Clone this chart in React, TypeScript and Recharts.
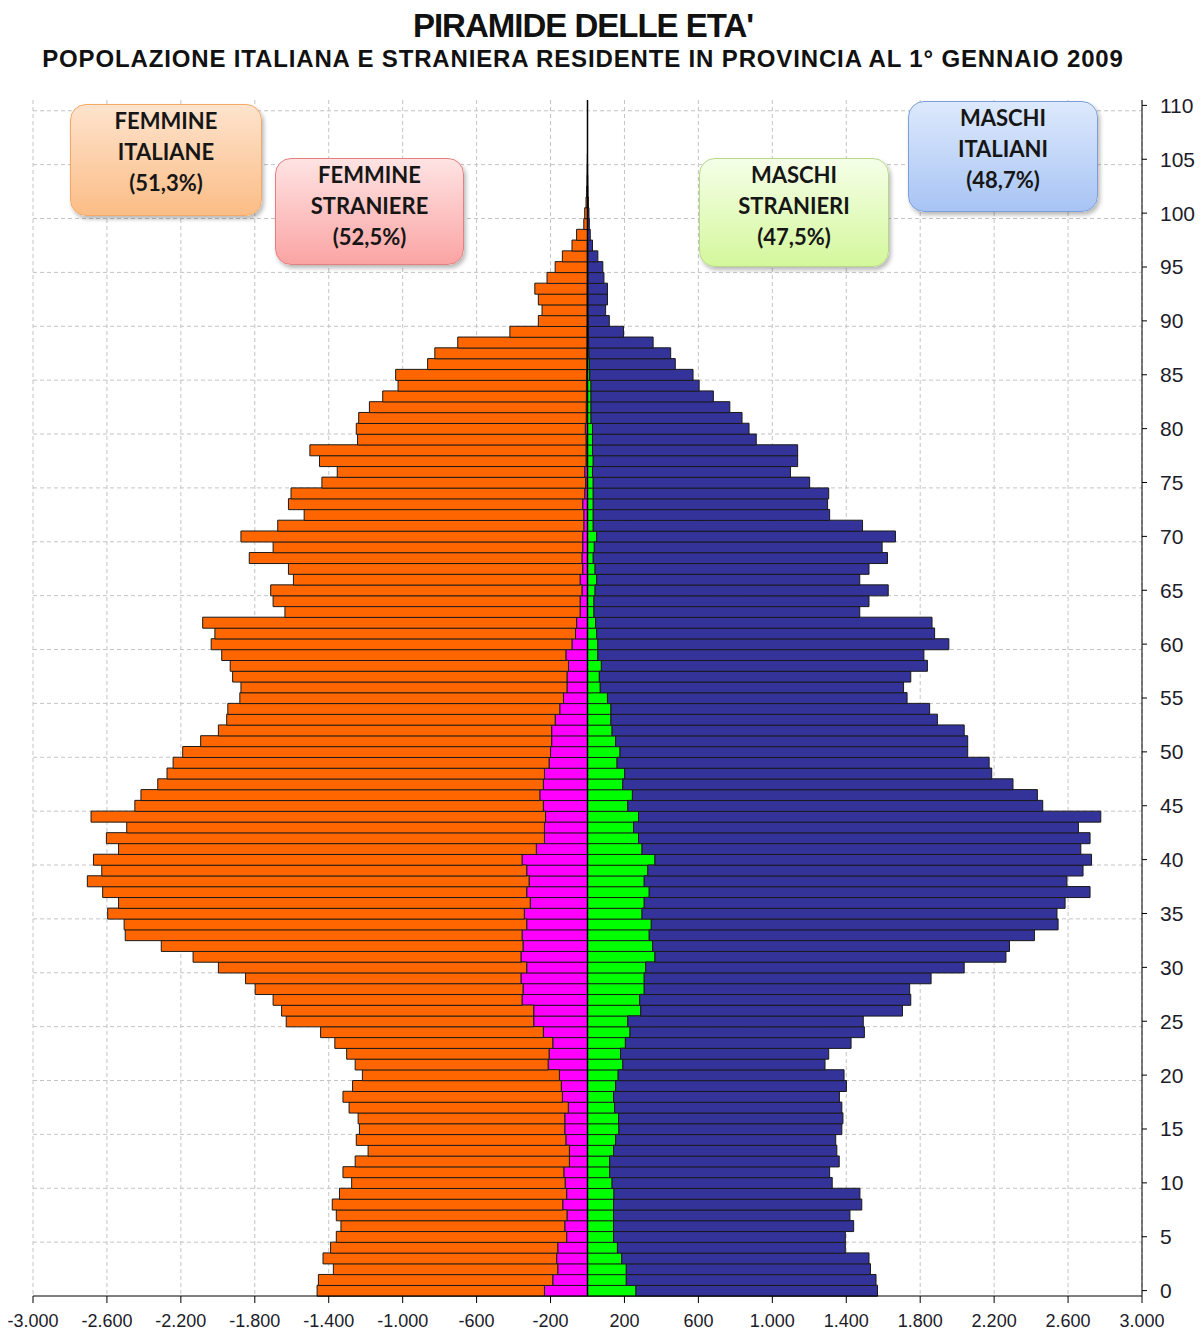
import React from "react";
import { BarChart, Bar, XAxis, YAxis, CartesianGrid, ReferenceLine } from "recharts";

// età 0..110
const ETA = [
  0, 1, 2, 3, 4, 5, 6, 7, 8, 9,
  10, 11, 12, 13, 14, 15, 16, 17, 18, 19,
  20, 21, 22, 23, 24, 25, 26, 27, 28, 29,
  30, 31, 32, 33, 34, 35, 36, 37, 38, 39,
  40, 41, 42, 43, 44, 45, 46, 47, 48, 49,
  50, 51, 52, 53, 54, 55, 56, 57, 58, 59,
  60, 61, 62, 63, 64, 65, 66, 67, 68, 69,
  70, 71, 72, 73, 74, 75, 76, 77, 78, 79,
  80, 81, 82, 83, 84, 85, 86, 87, 88, 89,
  90, 91, 92, 93, 94, 95, 96, 97, 98, 99,
  100, 101, 102, 103, 104, 105, 106, 107, 108, 109, 110,
];

const FEMMINE_ITALIANE = [
  1230, 1268, 1214, 1264, 1229, 1246, 1211, 1248, 1247, 1229,
  1155, 1195, 1159, 1089, 1134, 1111, 1118, 1186, 1187, 1129,
  1066, 1044, 1095, 1179, 1205, 1339, 1364, 1347, 1449, 1490,
  1668, 1774, 1957, 2147, 2178, 2254, 2227, 2294, 2390, 2299,
  2319, 2260, 2370, 2260, 2459, 2210, 2158, 2086, 2042, 2034,
  1990, 1899, 1803, 1777, 1796, 1751, 1764, 1809, 1830, 1862,
  1952, 1951, 2023, 1597, 1661, 1684, 1551, 1592, 1800, 1675,
  1849, 1656, 1513, 1592, 1589, 1427, 1339, 1442, 1494, 1236,
  1239, 1231, 1173, 1102, 1019, 1033, 861, 822, 699, 417,
  264, 244, 264, 283, 218, 174, 135, 83, 59, 20,
  15, 8, 5, 3, 2, 1, 0, 0, 0, 0, 0,
];

const FEMMINE_STRANIERE = [
  233, 188, 161, 167, 161, 113, 123, 111, 134, 113,
  121, 128, 98, 98, 117, 123, 123, 104, 136, 142,
  152, 213, 208, 188, 239, 291, 291, 354, 349, 360,
  329, 360, 349, 354, 329, 342, 310, 329, 316, 329,
  354, 277, 233, 233, 227, 239, 258, 239, 233, 208,
  200, 194, 194, 175, 150, 130, 111, 111, 103, 117,
  84, 65, 59, 40, 40, 30, 40, 26, 30, 26,
  26, 20, 20, 26, 15, 10, 15, 8, 8, 8,
  12, 7, 7, 6, 6, 5, 4, 4, 3, 3,
  2, 2, 2, 2, 1, 1, 1, 1, 0, 0,
  0, 0, 0, 0, 0, 0, 0, 0, 0, 0, 0,
];

const MASCHI_STRANIERI = [
  262, 210, 210, 185, 162, 141, 141, 141, 141, 143,
  133, 120, 120, 141, 152, 170, 168, 147, 141, 152,
  166, 191, 179, 205, 230, 218, 288, 282, 307, 307,
  315, 365, 353, 334, 345, 295, 307, 334, 307, 326,
  365, 295, 276, 249, 276, 218, 243, 191, 201, 160,
  176, 152, 133, 127, 127, 108, 69, 64, 75, 56,
  56, 50, 44, 35, 35, 41, 50, 41, 31, 37,
  50, 31, 31, 31, 31, 31, 27, 31, 27, 27,
  27, 19, 19, 19, 19, 12, 10, 8, 6, 5,
  4, 3, 3, 2, 2, 1, 1, 1, 0, 0,
  0, 0, 0, 0, 0, 0, 0, 0, 0, 0, 0,
];

const MASCHI_ITALIANI = [
  1307, 1351, 1321, 1338, 1233, 1254, 1299, 1279, 1343, 1331,
  1191, 1190, 1242, 1208, 1191, 1206, 1214, 1229, 1222, 1249,
  1222, 1094, 1126, 1221, 1268, 1274, 1416, 1467, 1436, 1552,
  1723, 1899, 1930, 2084, 2201, 2245, 2277, 2385, 2287, 2355,
  2362, 2374, 2443, 2407, 2501, 2245, 2191, 2111, 1986, 2013,
  1881, 1905, 1905, 1766, 1724, 1621, 1641, 1685, 1764, 1764,
  1899, 1828, 1820, 1438, 1488, 1586, 1423, 1482, 1592, 1557,
  1616, 1457, 1279, 1268, 1274, 1171, 1071, 1106, 1110, 886,
  847, 817, 751, 662, 585, 559, 465, 442, 349, 190,
  114, 95, 105, 106, 87, 82, 55, 26, 15, 10,
  8, 5, 3, 2, 1, 0, 0, 0, 0, 0, 0,
];

const X_TICKS = [
  -3000, -2600, -2200, -1800, -1400, -1000, -600, -200,
  200, 600, 1000, 1400, 1800, 2200, 2600, 3000,
];

const data = ETA.map((eta, i) => ({
  eta,
  fStr: -FEMMINE_STRANIERE[i],
  fIta: -FEMMINE_ITALIANE[i],
  mStr: MASCHI_STRANIERI[i],
  mIta: MASCHI_ITALIANI[i],
}));

const fmt = (v: number) => {
  const a = Math.abs(v);
  const s = a >= 1000 ? `${Math.floor(a / 1000)}.${String(a % 1000).padStart(3, "0")}` : `${a}`;
  return v < 0 ? `-${s}` : s;
};

// gridlines between age classes, every 5 years
const hGrid = (props: any) => {
  const off = props?.offset ?? { top: 100, height: 1196 };
  const band = off.height / ETA.length;
  return ETA.filter((a) => a > 0 && a % 5 === 0).map((a) => off.top + off.height - a * band);
};

const BOX_FONT = "Lato, 'Open Sans', sans-serif";

function Box({ left, top, w, h, from, to, border, lines }: any) {
  return (
    <div
      style={{
        position: "absolute", left, top, width: w, height: h, boxSizing: "border-box",
        borderRadius: 16, border: `1.5px solid ${border}`,
        background: `linear-gradient(to bottom, ${from}, ${to})`,
        boxShadow: "2px 3px 4px rgba(0,0,0,0.28)",
        fontFamily: BOX_FONT, fontWeight: 700, fontSize: 22, color: "#161616",
        textAlign: "center", lineHeight: "31px", paddingTop: 0,
      }}
    >
      {lines.map((l: string) => <div key={l}>{l}</div>)}
    </div>
  );
}

export default function App() {
  return (
    <div style={{ position: "absolute", left: 0, top: 0, width: 1202, height: 1335, background: "#fff" }}>
      <div style={{ position: "absolute", left: 0, width: 1166, top: 7, textAlign: "center", fontFamily: "'Liberation Sans', Arial, sans-serif", fontWeight: 700, fontSize: 33, letterSpacing: -1, color: "#111" }}>
        PIRAMIDE DELLE ETA'
      </div>
      <div style={{ position: "absolute", left: 0, width: 1166, top: 45, textAlign: "center", fontFamily: "'Liberation Sans', Arial, sans-serif", fontWeight: 700, fontSize: 24, letterSpacing: 0.85, color: "#111" }}>
        POPOLAZIONE ITALIANA E STRANIERA RESIDENTE IN PROVINCIA AL 1° GENNAIO 2009
      </div>

      <div style={{ position: "absolute", left: 0, top: 0 }}>
        <BarChart
          width={1202}
          height={1335}
          data={data}
          layout="vertical"
          stackOffset="sign"
          barCategoryGap={0}
          margin={{ top: 100, right: 5, bottom: 9, left: 33 }}
        >
          <CartesianGrid stroke="#c4c4c4" strokeDasharray="4 3" horizontalCoordinatesGenerator={hGrid} />
          <XAxis
            type="number"
            domain={[-3000, 3000]}
            ticks={X_TICKS}
            tickFormatter={fmt}
            allowDataOverflow
            height={30}
            stroke="#000"
            tickSize={7}
            tickMargin={11}
            tick={{ fill: "#1c1c2a", fontSize: 18, fontFamily: "'Liberation Sans', Arial, sans-serif" }}
          />
          <YAxis
            type="category"
            dataKey="eta"
            orientation="right"
            reversed
            interval={4}
            width={55}
            stroke="#000"
            tickSize={5}
            tickMargin={13}
            tick={{ fill: "#1c1c2a", fontSize: 21, fontFamily: "'Liberation Sans', Arial, sans-serif", textAnchor: "start" }}
          />
          <Bar dataKey="fStr" stackId="p" fill="#ff00ff" stroke="#1a1a1a" strokeWidth={1} isAnimationActive={false} />
          <Bar dataKey="fIta" stackId="p" fill="#ff6600" stroke="#1a1a1a" strokeWidth={1} isAnimationActive={false} />
          <Bar dataKey="mStr" stackId="p" fill="#00ff00" stroke="#1a1a1a" strokeWidth={1} isAnimationActive={false} />
          <Bar dataKey="mIta" stackId="p" fill="#333399" stroke="#1a1a1a" strokeWidth={1} isAnimationActive={false} />
          <ReferenceLine x={0} stroke="#000" strokeWidth={1.5} />
        </BarChart>
      </div>

      <Box left={70} top={104} w={192} h={112} from="#fee3cd" to="#fbbd86" border="#f3aa66" lines={["FEMMINE", "ITALIANE", "(51,3%)"]} />
      <Box left={275} top={158} w={189} h={107} from="#ffe3e3" to="#fba4a4" border="#e58080" lines={["FEMMINE", "STRANIERE", "(52,5%)"]} />
      <Box left={699} top={158} w={190} h={109} from="#f5ffe8" to="#d4f79c" border="#b6d98a" lines={["MASCHI", "STRANIERI", "(47,5%)"]} />
      <Box left={908} top={101} w={190} h={111} from="#dde9fc" to="#a7c4f4" border="#7c9fd9" lines={["MASCHI", "ITALIANI", "(48,7%)"]} />
    </div>
  );
}
